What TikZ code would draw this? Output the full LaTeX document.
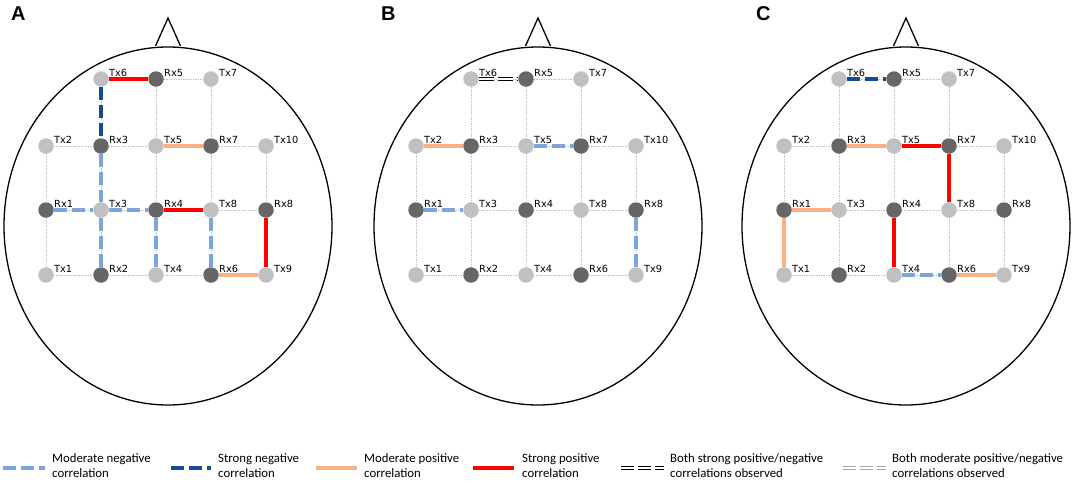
\documentclass[tikz,border=0pt]{standalone}
\usepackage{fontspec}
\setmainfont{DejaVu Sans}
\newfontfamily\legfont{Carlito}
\newfontfamily\letfont{Liberation Sans}

\definecolor{lblue}{RGB}{125,166,222}
\definecolor{dblue}{RGB}{20,75,145}
\definecolor{lorange}{RGB}{248,176,132}
\definecolor{sred}{RGB}{255,0,0}
\definecolor{txgray}{RGB}{192,192,192}
\definecolor{rxgray}{RGB}{102,102,102}
\definecolor{gridgray}{RGB}{195,195,195}
\definecolor{dblgray}{RGB}{165,165,165}

\tikzset{
  tx/.style={circle, fill=txgray, minimum size=15.5pt, inner sep=0pt},
  rx/.style={circle, fill=rxgray, minimum size=15.5pt, inner sep=0pt},
  lbl/.style={font=\fontsize{9.8}{12}\selectfont, inner sep=0pt, anchor=base west},
  gridline/.style={draw=gridgray, line width=0.7pt, densely dotted},
  mneg/.style={draw=lblue, line width=3.8pt, dash pattern=on 13pt off 5pt},
  sneg/.style={draw=dblue, line width=3.8pt, dash pattern=on 13pt off 5pt},
  mpos/.style={draw=lorange, line width=3.8pt},
  spos/.style={draw=sred, line width=3.8pt},
  bothstrong/.style={draw=black, double=white, line width=1.2pt, double distance=2.2pt, dash pattern=on 15pt off 4pt},
  bothmod/.style={draw=dblgray, double=white, line width=1.2pt, double distance=2.2pt, dash pattern=on 13pt off 4pt},
  legstrong/.style={draw=black, double=white, line width=1.2pt, double distance=2.2pt, dash pattern=on 13pt off 4pt},
  headline/.style={draw=black, line width=1.3pt},
  legtext/.style={font=\legfont\fontsize{12.8}{15}\selectfont, align=left, anchor=west, inner sep=0pt},
  paneltag/.style={font=\letfont\bfseries\fontsize{20}{20}\selectfont, anchor=base west, inner sep=0pt},
}

% electrode: name, x, y, type, label
\newcommand\elec[5]{%
  \node[#4] (#1) at (#2,#3) {};
  \node[lbl] (#1l) at ([xshift=8pt,yshift=3pt]#1.center) {#5};}

% panel: prefix, center x
\newcommand\headpanel[2]{%
  \begin{scope}[shift={(#2,0)}]
    \coordinate (#1hl) at (-12.5,46);
    \coordinate (#1ht) at (0,18);
    \coordinate (#1hr) at (12.5,46);
    \draw[headline] (#1hl) -- (#1ht) -- (#1hr);
    \draw[headline] (0,226) ellipse [x radius=164, y radius=179];
    \elec{#1Tx6}{-67}{79}{tx}{Tx6}
    \elec{#1Rx5}{-12}{79}{rx}{Rx5}
    \elec{#1Tx7}{43}{79}{tx}{Tx7}
    \elec{#1Tx2}{-122}{146}{tx}{Tx2}
    \elec{#1Rx3}{-67}{146}{rx}{Rx3}
    \elec{#1Tx5}{-12}{146}{tx}{Tx5}
    \elec{#1Rx7}{43}{146}{rx}{Rx7}
    \elec{#1Tx10}{98}{146}{tx}{Tx10}
    \elec{#1Rx1}{-122}{210}{rx}{Rx1}
    \elec{#1Tx3}{-67}{210}{tx}{Tx3}
    \elec{#1Rx4}{-12}{210}{rx}{Rx4}
    \elec{#1Tx8}{43}{210}{tx}{Tx8}
    \elec{#1Rx8}{98}{210}{rx}{Rx8}
    \elec{#1Tx1}{-122}{275}{tx}{Tx1}
    \elec{#1Rx2}{-67}{275}{rx}{Rx2}
    \elec{#1Tx4}{-12}{275}{tx}{Tx4}
    \elec{#1Rx6}{43}{275}{rx}{Rx6}
    \elec{#1Tx9}{98}{275}{tx}{Tx9}
    % horizontal grid
    \draw[gridline] (#1Tx6) -- (#1Rx5);
    \draw[gridline] (#1Rx5) -- (#1Tx7);
    \draw[gridline] (#1Tx2) -- (#1Rx3);
    \draw[gridline] (#1Rx3) -- (#1Tx5);
    \draw[gridline] (#1Tx5) -- (#1Rx7);
    \draw[gridline] (#1Rx7) -- (#1Tx10);
    \draw[gridline] (#1Rx1) -- (#1Tx3);
    \draw[gridline] (#1Tx3) -- (#1Rx4);
    \draw[gridline] (#1Rx4) -- (#1Tx8);
    \draw[gridline] (#1Tx8) -- (#1Rx8);
    \draw[gridline] (#1Tx1) -- (#1Rx2);
    \draw[gridline] (#1Rx2) -- (#1Tx4);
    \draw[gridline] (#1Tx4) -- (#1Rx6);
    \draw[gridline] (#1Rx6) -- (#1Tx9);
    % vertical grid
    \draw[gridline] (#1Tx2) -- (#1Rx1);
    \draw[gridline] (#1Rx1) -- (#1Tx1);
    \draw[gridline] (#1Tx6) -- (#1Rx3);
    \draw[gridline] (#1Rx3) -- (#1Tx3);
    \draw[gridline] (#1Tx3) -- (#1Rx2);
    \draw[gridline] (#1Rx5) -- (#1Tx5);
    \draw[gridline] (#1Tx5) -- (#1Rx4);
    \draw[gridline] (#1Rx4) -- (#1Tx4);
    \draw[gridline] (#1Tx7) -- (#1Rx7);
    \draw[gridline] (#1Rx7) -- (#1Tx8);
    \draw[gridline] (#1Tx8) -- (#1Rx6);
    \draw[gridline] (#1Tx10) -- (#1Rx8);
    \draw[gridline] (#1Rx8) -- (#1Tx9);
  \end{scope}}

\begin{document}
\begin{tikzpicture}[x=1pt, y=-1pt]
  \useasboundingbox (0,0) rectangle (1072,485);

  \node[paneltag] (tagA) at (11,20) {A};
  \node[paneltag] (tagB) at (381,20) {B};
  \node[paneltag] (tagC) at (756,20) {C};

  \headpanel{A}{168}
  \headpanel{B}{538}
  \headpanel{C}{906}

  % Panel A
  \draw[spos] (ATx6) -- (ARx5);
  \draw[sneg] (ATx6) -- (ARx3);
  \draw[mpos] (ATx5) -- (ARx7);
  \draw[mneg] (ARx3) -- (ATx3);
  \draw[mneg] (ATx3) -- (ARx2);
  \draw[mneg] (ARx1) -- (ATx3);
  \draw[mneg] (ATx3) -- (ARx4);
  \draw[spos] (ARx4) -- (ATx8);
  \draw[mneg] (ARx4) -- (ATx4);
  \draw[mneg] (ATx8) -- (ARx6);
  \draw[spos] (ARx8) -- (ATx9);
  \draw[mpos] (ARx6) -- (ATx9);

  % Panel B
  \draw[bothstrong] (BTx6) -- (BRx5);
  \draw[mpos] (BTx2) -- (BRx3);
  \draw[mneg] (BTx5) -- (BRx7);
  \draw[mneg] (BRx1) -- (BTx3);
  \draw[mneg] (BRx8) -- (BTx9);

  % Panel C
  \draw[sneg] (CTx6) -- (CRx5);
  \draw[mpos] (CRx3) -- (CTx5);
  \draw[spos] (CTx5) -- (CRx7);
  \draw[spos] (CRx7) -- (CTx8);
  \draw[mpos] (CRx1) -- (CTx3);
  \draw[mpos] (CRx1) -- (CTx1);
  \draw[spos] (CRx4) -- (CTx4);
  \draw[mneg] (CTx4) -- (CRx6);
  \draw[mpos] (CRx6) -- (CTx9);

  % Legend
  \coordinate (l1a) at (3,468);   \coordinate (l1b) at (45,468);
  \draw[mneg] (l1a) -- (l1b);
  \node[legtext] (l1t) at (52,466) {Moderate negative\\correlation};
  \coordinate (l2a) at (171,468); \coordinate (l2b) at (211,468);
  \draw[sneg] (l2a) -- (l2b);
  \node[legtext] (l2t) at (218,466) {Strong negative\\correlation};
  \coordinate (l3a) at (316,468); \coordinate (l3b) at (357,468);
  \draw[mpos] (l3a) -- (l3b);
  \node[legtext] (l3t) at (364,466) {Moderate positive\\correlation};
  \coordinate (l4a) at (473,468); \coordinate (l4b) at (514,468);
  \draw[spos] (l4a) -- (l4b);
  \node[legtext] (l4t) at (522,466) {Strong positive\\correlation};
  \coordinate (l5a) at (621,468); \coordinate (l5b) at (664,468);
  \draw[legstrong] (l5a) -- (l5b);
  \node[legtext] (l5t) at (670,466) {Both strong positive/negative\\correlations observed};
  \coordinate (l6a) at (843,468); \coordinate (l6b) at (886,468);
  \draw[bothmod] (l6a) -- (l6b);
  \node[legtext] (l6t) at (892,466) {Both moderate positive/negative\\correlations observed};
\end{tikzpicture}
\end{document}
